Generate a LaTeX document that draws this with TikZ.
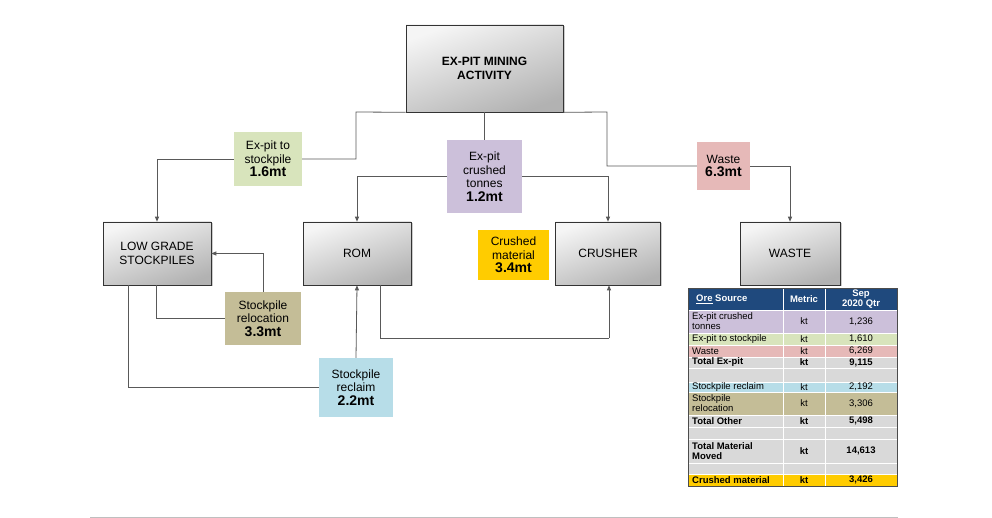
\documentclass[tikz,border=0pt]{standalone}
\usepackage{fontspec}
\setmainfont{Liberation Sans}
\usetikzlibrary{arrows.meta,shadows}
\definecolor{ln}{HTML}{595959}
\definecolor{cgreen}{HTML}{D8E4BC}
\definecolor{cpurp}{HTML}{CCC0DA}
\definecolor{cpink}{HTML}{E6B9B8}
\definecolor{cgold}{HTML}{FFCC00}
\definecolor{ctan}{HTML}{C4BD97}
\definecolor{cblue}{HTML}{B7DDE8}
\definecolor{cgray}{HTML}{D9D9D9}
\definecolor{chead}{HTML}{1F497D}
\begin{document}
\begin{tikzpicture}[x=1pt,y=-1pt,
 box/.style={draw=black!80,line width=0.6pt,top color=gray!8,bottom color=gray!60,shading angle=20,drop shadow={shadow xshift=1.5pt,shadow yshift=-1.5pt,opacity=0.4},align=center,font=\fontsize{12}{14}\selectfont},
 lab/.style={align=center,inner sep=0pt,font=\fontsize{12}{13.5}\selectfont},
 con/.style={draw=ln,line width=0.8pt},
 arr/.style={con,-{Triangle[length=5pt,width=4pt]}},
 cell/.style={draw=white,line width=0.6pt},
 tf/.style={font=\fontsize{9.5}{10}\selectfont},
 tb/.style={font=\fontsize{9.5}{10}\selectfont\bfseries}]
\useasboundingbox[fill=white] (0,0) rectangle (992,518);
% boxes
\node[box,minimum width=157pt,minimum height=87pt,font=\fontsize{12}{14}\selectfont\bfseries] (top) at (484.5,68.5) {EX-PIT MINING\\ACTIVITY};
\node[box,minimum width=108pt,minimum height=63pt] (lgs) at (157,253.5) {LOW GRADE\\STOCKPILES};
\node[box,minimum width=108pt,minimum height=63pt] (rom) at (357,253.5) {ROM};
\node[box,minimum width=105pt,minimum height=63pt] (cru) at (608,253.5) {CRUSHER};
\node[box,minimum width=100pt,minimum height=63pt] (was) at (790,253.5) {WASTE};
% labels
\node[lab,fill=cgreen,minimum width=68pt,minimum height=54pt] (l1) at (268,159) {Ex-pit to\\stockpile\\{\fontsize{14}{15}\selectfont\bfseries 1.6mt}};
\node[lab,fill=cpurp,minimum width=75pt,minimum height=73pt] (l2) at (484.5,176.5) {Ex-pit\\crushed\\tonnes\\{\fontsize{14}{15}\selectfont\bfseries 1.2mt}};
\node[lab,fill=cpink,minimum width=53pt,minimum height=48pt] (l3) at (723.5,166) {Waste\\{\fontsize{14}{15}\selectfont\bfseries 6.3mt}};
\node[lab,fill=cgold,minimum width=71pt,minimum height=50pt] (l4) at (513.5,255) {Crushed\\material\\{\fontsize{14}{15}\selectfont\bfseries 3.4mt}};
\node[lab,fill=ctan,minimum width=76pt,minimum height=53pt] (l5) at (263,318.5) {Stockpile\\relocation\\{\fontsize{14}{15}\selectfont\bfseries 3.3mt}};
\node[lab,fill=cblue,minimum width=74pt,minimum height=59pt] (l6) at (356,387.5) {Stockpile\\reclaim\\{\fontsize{14}{15}\selectfont\bfseries 2.2mt}};
% connectors
\coordinate (a1) at (356,112);
\draw[con] (top.south west) -- (a1) |- (l1.east);
\draw[arr] (l1.west) -| (lgs.north);
\draw[con] (top.south) -- (l2.north);
\draw[arr] (l2.west) -| (rom.north);
\draw[arr] (l2.east) -| (cru.north);
\coordinate (a3) at (607,112);
\draw[con] (top.south east) -- (a3) |- (l3.west);
\draw[arr] (l3.east) -| (was.north);
\coordinate (b1) at (156,285);
\draw[con] (b1) |- (l5.west);
\draw[arr] (l5.north) |- (lgs.east);
\coordinate (c1) at (128,285);
\draw[con] (c1) |- (l6.west);
\draw[arr] (l6.north) -- (rom.south);
\coordinate (d1) at (380,285);
\coordinate (d2) at (609,338);
\draw[con] (d1) |- (d2);
\draw[arr] (d2) -- (cru.south -| d2);
\draw[gray!50,line width=0.8pt] (90,517) -- (898,517);
% table
\def\xa{688}\def\xb{783}\def\xc{825}\def\xd{897}
\fill[chead] (\xa,288) rectangle (\xd,310);
\foreach \ya/\yb/\c in {310/333/cpurp,333/345/cgreen,345/357/cpink,357/368/cgray,368/382/cgray,382/392/cblue,392/415/ctan,415/427/cgray,427/439/cgray,439/463/cgray,463/474/cgray,474/486/cgold}{
 \fill[\c] (\xa,\ya) rectangle (\xd,\yb);
 \draw[cell] (\xa,\ya) rectangle (\xb,\yb) (\xb,\ya) rectangle (\xc,\yb) (\xc,\ya) rectangle (\xd,\yb);}
\draw[cell] (\xb,288) -- (\xb,310) (\xc,288) -- (\xc,310);
\draw[black!70,line width=0.6pt] (\xa,288) rectangle (\xd,486);
\begin{scope}[every node/.style={inner sep=0pt,align=left}]
\node[tb,text=white,anchor=west] (h1) at (696,299) {\underline{Ore} Source};
\node[tb,text=white] (h2) at (804,299) {Metric};
\node[tb,text=white,align=center] (h3) at (861,299) {Sep\\2020 Qtr};
\foreach \y/\t/\v/\s in {321.5/{Ex-pit crushed\\tonnes}/{1,236}/tf,339/{Ex-pit to stockpile}/{1,610}/tf,351/{Waste}/{6,269}/tf,362.5/{Total Ex-pit}/{9,115}/tb,387/{Stockpile reclaim}/{2,192}/tf,403.5/{Stockpile\\relocation}/{3,306}/tf,421/{Total Other}/{5,498}/tb,451/{Total Material\\Moved}/{14,613}/tb,480/{Crushed material}/{3,426}/tb}{
 \node[\s,anchor=west] at (692,\y) {\t};
 \node[\s] at (804,\y) {kt};
 \node[\s] at (861,\y) {\v};}
\end{scope}
\end{tikzpicture}
\end{document}
